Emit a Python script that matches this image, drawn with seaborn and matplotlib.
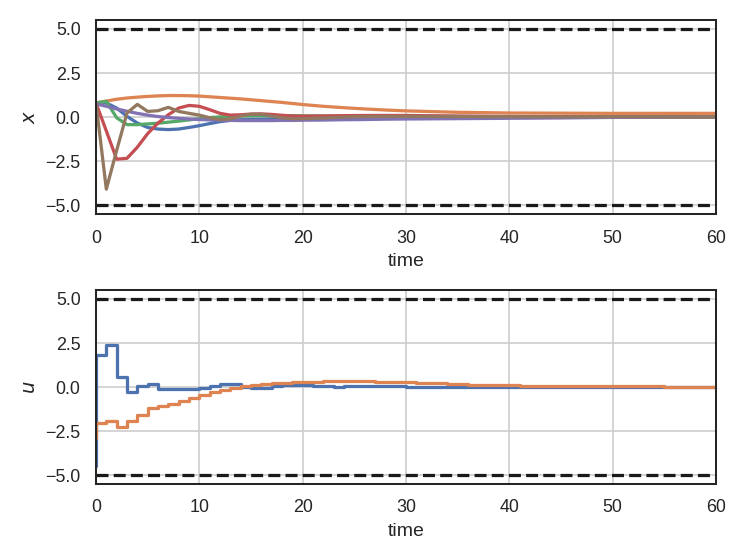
import numpy as np
import pandas as pd
import matplotlib
matplotlib.use("Agg")
import matplotlib.pyplot as plt
import seaborn as sns

# state trajectories
t_x = [0, 1, 2, 3, 4, 5, 6, 7, 8, 9, 10, 11, 12, 13, 14, 15, 16, 17, 18, 19, 20,
       22, 24, 26, 28, 30, 35, 40, 45, 50, 55, 60]
x1 = [0.79, 0.79, 0.5, 0.03, -0.35, -0.6, -0.69, -0.72, -0.69, -0.6, -0.5, -0.38, -0.27, -0.2, -0.16, -0.14,
      -0.13, -0.12, -0.12, -0.11, -0.11, -0.1, -0.08, -0.06, -0.04, -0.02, -0.01, 0.0, 0.0, 0.0, 0.0, 0.0]
x2 = [0.79, 0.9, 1.0, 1.07, 1.12, 1.16, 1.19, 1.21, 1.21, 1.2, 1.18, 1.14, 1.1, 1.06, 1.02, 0.97,
      0.92, 0.87, 0.82, 0.76, 0.7, 0.6, 0.52, 0.45, 0.39, 0.34, 0.26, 0.22, 0.21, 0.2, 0.2, 0.2]
x3 = [0.79, 0.88, -0.05, -0.44, -0.44, -0.4, -0.36, -0.3, -0.24, -0.17, -0.1, -0.04, 0.0, 0.03, 0.05, 0.06,
      0.07, 0.07, 0.07, 0.07, 0.06, 0.05, 0.04, 0.03, 0.03, 0.02, 0.01, 0.0, 0.0, 0.0, 0.0, 0.0]
x4 = [0.79, -0.8, -2.4, -2.35, -1.72, -0.95, -0.35, 0.12, 0.5, 0.65, 0.6, 0.41, 0.2, 0.1, 0.12, 0.16,
      0.17, 0.14, 0.09, 0.05, 0.04, 0.05, 0.07, 0.08, 0.08, 0.08, 0.05, 0.02, 0.0, 0.0, 0.0, 0.0]
x5 = [0.74, 0.6, 0.45, 0.32, 0.2, 0.1, 0.02, -0.04, -0.08, -0.12, -0.15, -0.17, -0.19, -0.2, -0.21, -0.21,
      -0.21, -0.21, -0.2, -0.2, -0.19, -0.18, -0.16, -0.15, -0.13, -0.12, -0.1, -0.08, -0.06, -0.03, -0.01, 0.0]
x6 = [0.79, -4.1, -1.9, 0.22, 0.71, 0.31, 0.35, 0.54, 0.31, 0.2, 0.1, -0.05, -0.15, -0.12, 0.05, 0.15,
      0.15, 0.05, -0.05, -0.1, -0.1, -0.06, -0.01, 0.02, 0.03, 0.03, 0.02, 0.01, 0.0, 0.0, 0.0, 0.0]

# control inputs (piecewise constant, one value per time step)
t_u = list(range(0, 61))
u1 = [-4.5, 1.8, 2.4, 0.54, -0.3, 0.06, 0.17, -0.12, -0.1, -0.12, -0.1,
      -0.08, 0.03, 0.18, 0.18, -0.03, -0.06, -0.04, 0.03, 0.08, 0.1,
      0.1, 0.02, 0.02, 0.0, 0.03, 0.03, 0.03, 0.03, 0.03, 0.02,
      0.01, 0.01, 0.01, 0.0, 0.0, 0.0, 0.0, 0.0, 0.0, 0.0,
      0.0, 0.0, 0.0, 0.0, 0.0, 0.0, 0.0, 0.0, 0.0, 0.0,
      0.0, 0.0, 0.0, 0.0, 0.0, 0.0, 0.0, 0.0, 0.0, 0.0]
u2 = [-2.9, -2.06, -1.96, -2.3, -1.96, -1.62, -1.2, -1.07, -0.96, -0.79, -0.63,
      -0.44, -0.3, -0.16, -0.05, 0.03, 0.1, 0.16, 0.2, 0.24, 0.27,
      0.29, 0.3, 0.31, 0.32, 0.32, 0.32, 0.31, 0.3, 0.29, 0.28,
      0.25, 0.23, 0.21, 0.19, 0.17, 0.15, 0.13, 0.12, 0.1, 0.09,
      0.08, 0.07, 0.06, 0.06, 0.05, 0.05, 0.04, 0.04, 0.03, 0.03,
      0.03, 0.02, 0.02, 0.02, 0.02, 0.01, 0.01, 0.01, 0.01, 0.01]

x_bound = 5.0
u_bound = 5.0

sns.set_theme(style="white")
plt.rcParams['font.family'] = ['Liberation Sans', 'DejaVu Sans']

df_x = pd.DataFrame({"time": t_x * 6,
                     "value": x1 + x2 + x3 + x4 + x5 + x6,
                     "state": sum([[k] * len(t_x) for k in range(6)], [])})
df_u = pd.DataFrame({"time": t_u * 2,
                     "value": u1 + u2,
                     "input": sum([[k] * len(t_u) for k in range(2)], [])})

pal = sns.color_palette("deep")

fig, (ax1, ax2) = plt.subplots(2, 1, figsize=(6.4, 4.8), dpi=116.72)
fig.subplots_adjust(left=0.1285, right=0.9585, top=0.964, bottom=0.136, hspace=0.392)

sns.lineplot(data=df_x, x="time", y="value", hue="state", palette=pal[:6],
             estimator=None, legend=False, ax=ax1, lw=2)
sns.lineplot(data=df_u, x="time", y="value", hue="input", palette=pal[:2],
             estimator=None, legend=False, ax=ax2, lw=2, drawstyle="steps-pre")

for ax, b, lab in [(ax1, x_bound, "$x$"), (ax2, u_bound, "$u$")]:
    ax.axhline(b, color="k", ls="--", lw=2)
    ax.axhline(-b, color="k", ls="--", lw=2)
    ax.set_xlim(0, 60)
    ax.set_ylim(-5.5, 5.5)
    ax.set_yticks([-5, -2.5, 0, 2.5, 5])
    ax.grid(True)
    ax.set_xlabel("time")
    ax.set_ylabel(lab)

fig.savefig("out.png", dpi=116.72)
